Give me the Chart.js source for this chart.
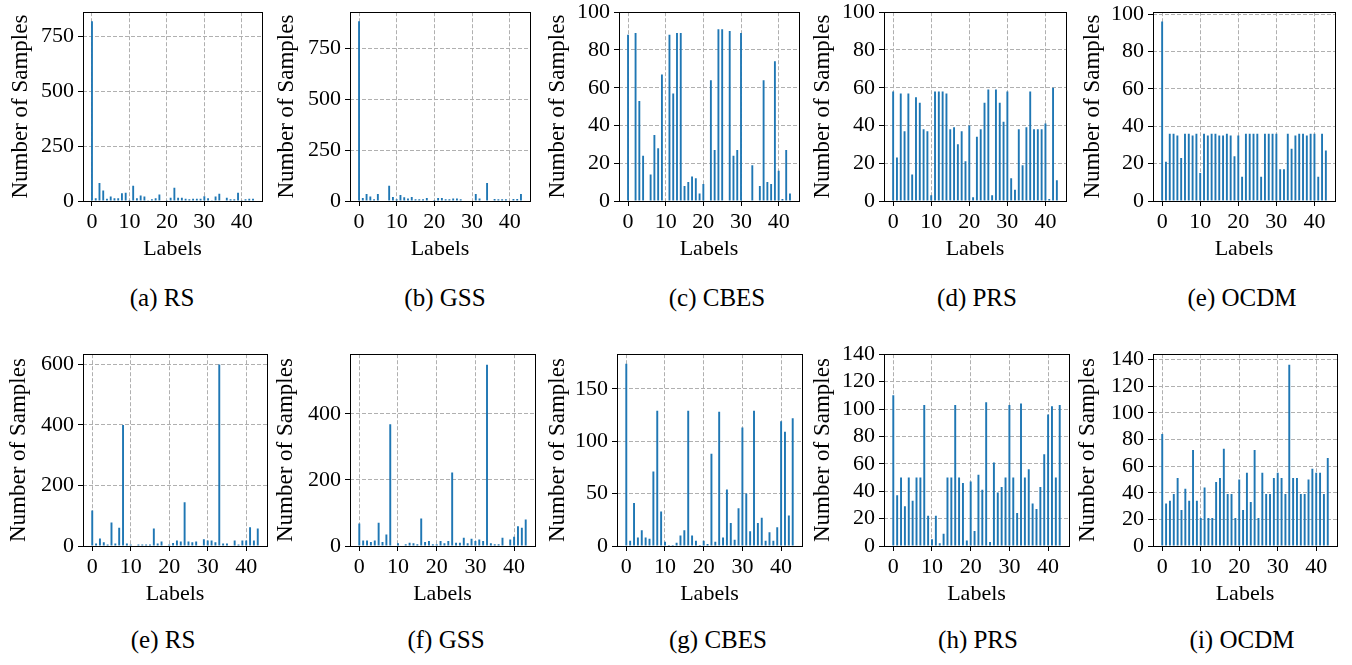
<!DOCTYPE html>
<html>
<head>
<meta charset="utf-8">
<script src="https://cdn.jsdelivr.net/npm/chart.js@4.4.0/dist/chart.umd.min.js"></script>
<style>
  body { margin: 0; background: #fff; width: 1352px; height: 665px; position: relative; overflow: hidden; font-family: "Liberation Serif", "Times New Roman", serif; }
  .panel { position: absolute; }
  .cap { position: absolute; font-size: 25px; color: #000; transform: translate(-50%, -50%); white-space: nowrap; }
</style>
</head>
<body>
<script>
// class labels on the x axis
const labels = [0,1,2,3,4,5,6,7,8,9,10,11,12,13,14,15,16,17,18,19,20,21,
                22,23,24,25,26,27,28,29,30,31,32,33,34,35,36,37,38,39,40,41,42,43];
const xTicks = [0, 10, 20, 30, 40];

// top row (a)-(e)
const rsTop   = [820,12,82,48,10,20,12,12,35,38,5,70,12,25,20,3,8,12,30,0,3,15,60,15,15,10,8,10,10,10,22,12,3,20,33,0,15,8,8,38,3,8,10,10];
const gssTop  = [885,15,35,22,8,35,3,3,75,20,8,30,18,12,20,8,8,8,15,3,5,15,15,8,8,12,12,8,3,3,3,35,12,3,88,3,10,8,8,8,3,10,10,35];
const cbesTop = [88,0,89,53,24,0,14,35,28,67,0,88,57,89,89,8,10,13,12,4,9,0,64,27,91,91,0,90,24,27,89,0,0,19,0,8,64,10,9,74,16,1,27,4];
const prsTop  = [58,23,57,37,57,14,55,52,38,37,3,58,58,58,57,38,39,30,37,21,40,2,34,38,52,59,3,59,52,42,58,12,6,38,19,39,58,38,38,38,41,1,60,11];
const ocdmTop = [96,21,36,36,35,23,36,36,35,36,15,36,35,36,36,35,35,36,35,24,35,13,36,36,36,36,13,36,36,36,36,17,17,36,28,35,36,36,35,36,36,13,36,27];

// bottom row (e)-(i)
const rsBot   = [117,8,25,12,5,78,8,60,400,8,5,0,5,5,5,5,58,8,15,0,5,10,18,15,145,15,12,15,0,22,18,18,12,600,8,8,0,18,5,18,18,62,18,58];
const gssBot  = [68,17,17,12,17,70,12,35,368,0,8,0,5,10,8,5,83,12,15,5,5,15,8,15,222,10,10,25,8,22,15,20,15,548,8,5,5,25,0,20,28,60,55,80];
const cbesBot = [174,5,41,8,15,8,7,71,129,33,4,1,1,3,10,15,129,10,5,1,5,2,88,4,128,8,54,22,6,36,113,50,14,129,22,27,5,13,5,18,119,109,29,122];
const prsBot  = [110,37,50,29,50,33,50,50,103,22,5,22,2,9,50,50,103,50,46,4,47,11,52,41,105,3,61,39,43,50,103,50,24,104,50,56,31,27,43,67,96,102,50,103];
const ocdmBot = [84,32,34,39,51,27,43,34,72,34,21,44,21,21,48,51,73,39,39,21,50,27,55,33,72,21,55,39,39,51,55,51,39,136,51,51,39,39,50,58,55,55,39,66];

// y tick labels
const yTicks250 = [0, 250, 500, 750];
const yTicks200 = [0, 200, 400, 600];
const yTicks50  = [0, 50, 100, 150];
const yTicks20a = [0, 20, 40, 60, 80, 100];
const yTicks20b = [0, 20, 40, 60, 80, 100, 120, 140];

const captions = ['(a) RS', '(b) GSS', '(c) CBES', '(d) PRS', '(e) OCDM',
                  '(e) RS', '(f) GSS', '(g) CBES', '(h) PRS', '(i) OCDM'];

const panels = [
  { values: rsTop,   ticks: yTicks250, yMax: 861 },
  { values: gssTop,  ticks: yTicks250, yMax: 929 },
  { values: cbesTop, ticks: yTicks20a, yMax: 100 },
  { values: prsTop,  ticks: yTicks20a, yMax: 100 },
  { values: ocdmTop, ticks: yTicks20a, yMax: 101 },
  { values: rsBot,   ticks: yTicks200, yMax: 634 },
  { values: gssBot,  ticks: yTicks200, yMax: 580 },
  { values: cbesBot, ticks: yTicks50,  yMax: 183 },
  { values: prsBot,  ticks: yTicks20b, yMax: 140 },
  { values: ocdmBot, ticks: yTicks20b, yMax: 144 }
];

// plot boxes in page pixels (l, t, r, b), y-axis band width, caption centre
const boxes = [
  { l: 83,   t: 9,   r: 262,  b: 201, yW: 76, cx: 162,  cy: 298 },
  { l: 350,  t: 9,   r: 530,  b: 201, yW: 77, cx: 445,  cy: 298 },
  { l: 619,  t: 9,   r: 799,  b: 201, yW: 75, cx: 717,  cy: 298 },
  { l: 884,  t: 9,   r: 1066, b: 201, yW: 75, cx: 977,  cy: 298 },
  { l: 1153, t: 9,   r: 1335, b: 201, yW: 74, cx: 1242, cy: 298 },
  { l: 83,   t: 351, r: 267,  b: 546, yW: 78, cx: 163,  cy: 640 },
  { l: 350,  t: 351, r: 535,  b: 546, yW: 78, cx: 446,  cy: 640 },
  { l: 617,  t: 351, r: 802,  b: 546, yW: 73, cx: 718,  cy: 640 },
  { l: 884,  t: 351, r: 1069, b: 546, yW: 75, cx: 978,  cy: 640 },
  { l: 1153, t: 351, r: 1337, b: 546, yW: 79, cx: 1242, cy: 640 }
];

const PAD_T = 14, PAD_R = 14, X_H = 61;
const FONT = 'Liberation Serif';
const BLUE = '#1f77b4';

Chart.defaults.font.family = FONT;
Chart.defaults.color = '#000';

// full black frame round the plot area
const framePlugin = {
  id: 'frame',
  afterDraw(chart) {
    const { ctx, chartArea: a } = chart;
    ctx.save();
    ctx.strokeStyle = '#000';
    ctx.lineWidth = 1;
    ctx.strokeRect(Math.round(a.left) + 0.5, Math.round(a.top) + 0.5,
                   Math.round(a.right - a.left), Math.round(a.bottom - a.top));
    ctx.restore();
  }
};

function makePanel(p, box, caption) {
  const w = box.yW + (box.r - box.l) + PAD_R;
  const h = PAD_T + (box.b - box.t) + X_H;

  const div = document.createElement('div');
  div.className = 'panel';
  div.style.left = (box.l - box.yW) + 'px';
  div.style.top = (box.t - PAD_T) + 'px';
  const canvas = document.createElement('canvas');
  canvas.width = w;
  canvas.height = h;
  div.appendChild(canvas);
  document.body.appendChild(div);

  const cap = document.createElement('div');
  cap.className = 'cap';
  cap.style.left = box.cx + 'px';
  cap.style.top = box.cy + 'px';
  cap.textContent = caption;
  document.body.appendChild(cap);

  const gridOpts = { offset: false, color: '#b0b0b0', lineWidth: 1, tickLength: 5, tickColor: '#000', tickWidth: 1 };

  new Chart(canvas, {
    type: 'bar',
    data: {
      datasets: [{
        data: p.values.map((v, i) => ({ x: labels[i], y: v })),
        backgroundColor: BLUE,
        borderWidth: 0,
        barPercentage: 0.5,
        categoryPercentage: 1.0
      }]
    },
    options: {
      responsive: false,
      animation: false,
      layout: { padding: { top: PAD_T, right: PAD_R, left: 0, bottom: 0 } },
      plugins: { legend: { display: false }, tooltip: { enabled: false } },
      scales: {
        x: {
          type: 'linear',
          offset: false,
          min: -2.4,
          max: 45.4,
          afterFit: s => { s.height = X_H; },
          afterBuildTicks: s => { s.ticks = xTicks.map(v => ({ value: v })); },
          grid: gridOpts,
          border: { display: false, dash: [4, 2] },
          ticks: { autoSkip: false, maxRotation: 0, padding: 3, color: '#000', font: { family: FONT, size: 22 } },
          title: { display: true, text: 'Labels', color: '#000', padding: 0, font: { family: FONT, size: 22 } }
        },
        y: {
          type: 'linear',
          min: 0,
          max: p.yMax,
          afterFit: s => { s.width = box.yW; },
          afterBuildTicks: s => { s.ticks = p.ticks.filter(v => v <= p.yMax).map(v => ({ value: v })); },
          grid: gridOpts,
          border: { display: false, dash: [4, 2] },
          ticks: { autoSkip: false, padding: 4, color: '#000', font: { family: FONT, size: 22 } },
          title: { display: true, text: 'Number of Samples', color: '#000', padding: 0, font: { family: FONT, size: 23 } }
        }
      }
    },
    plugins: [framePlugin]
  });
}

panels.forEach((p, i) => makePanel(p, boxes[i], captions[i]));
</script>
</body>
</html>
